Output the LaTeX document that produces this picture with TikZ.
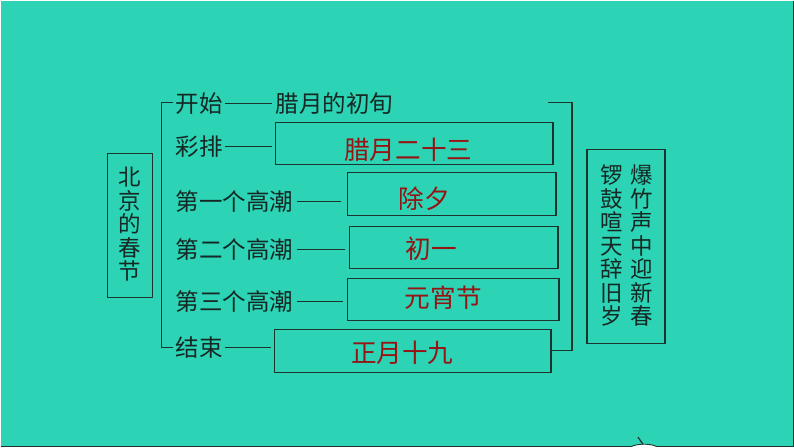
\documentclass[tikz,border=0pt]{standalone}
\usepackage{fontspec}
\newfontfamily\cjk{Noto Sans CJK SC}
\definecolor{bgteal}{RGB}{44,211,180}
\definecolor{inkline}{RGB}{28,52,46}
\definecolor{inktext}{RGB}{22,40,36}
\definecolor{ansred}{RGB}{150,20,20}
\begin{document}
\begin{tikzpicture}[x=0.02cm,y=-0.02cm,
    box/.style={draw=inkline,line width=0.8pt,inner sep=0pt},
    lab/.style={anchor=west,inner sep=0pt,text=inktext,font=\cjk\fontsize{13.4}{14}\selectfont},
    ans/.style={inner sep=0pt,text=ansred,font=\cjk\fontsize{14.6}{15}\selectfont},
    vert/.style={inner sep=0pt,align=center,text=inktext,font=\cjk\fontsize{12.8}{13.4}\selectfont},
    link/.style={draw=inkline,line width=0.7pt}]
    % фон
    \fill [bgteal] ( 0, 0 ) rectangle ( 794, 447 );
    \draw [inkline, line width=0.8pt] ( 0, 446.5 ) -- ( 793.5, 446.5 ) -- ( 793.5, 0 );

    % заголовок
    \node [box, minimum width=0.9cm, minimum height=2.88cm] (title) at ( 129.5, 225 ) {};
    \node [vert] (titletext) at ( 129.5, 224 ) {北\\京\\的\\春\\节};

    % пункты слева
    \node [lab] (kaishi) at ( 175, 103 ) {开始};
    \node [lab] (layue) at ( 275, 103 ) {腊月的初旬};
    \node [lab] (caipai) at ( 175, 146 ) {彩排};
    \node [lab] (gc1) at ( 175, 201 ) {第一个高潮};
    \node [lab] (gc2) at ( 175, 249 ) {第二个高潮};
    \node [lab] (gc3) at ( 175, 301 ) {第三个高潮};
    \node [lab] (jieshu) at ( 175, 347 ) {结束};

    % ответы
    \node [box, minimum width=5.56cm, minimum height=0.84cm] (b1) at ( 414, 143 ) {};
    \node [box, minimum width=4.18cm, minimum height=0.86cm] (b2) at ( 451.5, 193.5 ) {};
    \node [box, minimum width=4.18cm, minimum height=0.84cm] (b3) at ( 453.5, 247 ) {};
    \node [box, minimum width=4.24cm, minimum height=0.84cm] (b4) at ( 453, 299 ) {};
    \node [box, minimum width=5.54cm, minimum height=0.86cm] (b5) at ( 412.5, 350.5 ) {};
    \node [ans] (a1) at ( 408, 149 ) {腊月二十三};
    \node [ans] (a2) at ( 424, 198 ) {除夕};
    \node [ans] (a3) at ( 431, 248 ) {初一};
    \node [ans] (a4) at ( 443, 297 ) {元宵节};
    \node [ans] (a5) at ( 402, 352 ) {正月十九};

    % тире
    \draw [link, shorten <=1pt, shorten >=2pt] (kaishi.east) -- (layue.west);
    \draw [link, shorten <=1pt, shorten >=1.5pt] (caipai.east) -- (caipai.east -| b1.west);
    \draw [link, shorten <=2pt, shorten >=3pt] (gc1.east) -- (gc1.east -| b2.west);
    \draw [link, shorten <=2pt, shorten >=2pt] (gc2.east) -- (gc2.east -| b3.west);
    \draw [link, shorten <=2pt, shorten >=2pt] (gc3.east) -- (gc3.east -| b4.west);
    \draw [link, shorten <=1pt, shorten >=1.5pt] (jieshu.east) -- (jieshu.east -| b5.west);

    % скобки
    \coordinate (lt) at ( 172, 102 );
    \coordinate (lb) at ( 172, 347 );
    \coordinate (rt) at ( 548, 102 );
    \draw [link] (lt) -- ++( -11, 0 ) |- (lb);
    \draw [link] (rt) -- ++( 24, 0 ) |- (b5.east);

    % справа
    \node [box, minimum width=1.56cm, minimum height=3.88cm] (poem) at ( 626, 246 ) {};
    \node [vert] (line1) at ( 642, 245.5 ) {爆\\竹\\声\\中\\迎\\新\\春};
    \node [vert] (line2) at ( 612, 245.5 ) {锣\\鼓\\喧\\天\\辞\\旧\\岁};

    % внизу
    \begin{scope}
        \clip ( 0, 0 ) rectangle ( 794, 446 );
        \draw [inkline, line width=0.5pt, fill=white] ( 644, 450 ) ellipse ( 16 and 6 );
        \draw [inkline, line width=0.7pt] ( 638, 437 ) .. controls ( 640, 441 ) .. ( 643, 444 );
    \end{scope}
\end{tikzpicture}
\end{document}
